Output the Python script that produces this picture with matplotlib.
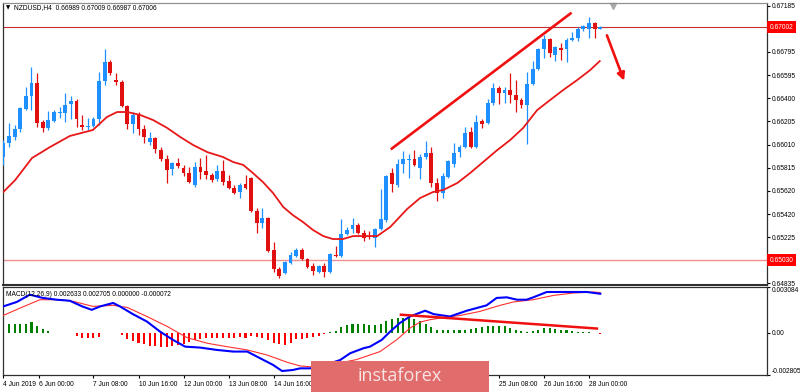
import numpy as np
import matplotlib
matplotlib.use('Agg')
import matplotlib.pyplot as plt
from matplotlib.patches import Rectangle, FancyArrowPatch
from matplotlib.transforms import blended_transform_factory

plt.rcParams['font.family'] = ['Liberation Sans', 'DejaVu Sans']

# NZDUSD H4 candles
opens = [0.65904, 0.66023, 0.66074, 0.66141, 0.66311, 0.66420, 0.66531, 0.66200, 0.66150, 0.66209,
         0.66277, 0.66277, 0.66353, 0.66378, 0.66175, 0.66158, 0.66167, 0.66226, 0.66547, 0.66708,
         0.66556, 0.66539, 0.66336, 0.66183, 0.66260, 0.66141, 0.66031, 0.66065, 0.65963, 0.65887,
         0.65802, 0.65853, 0.65811, 0.65769, 0.65667, 0.65819, 0.65786, 0.65752, 0.65718, 0.65786,
         0.65701, 0.65642, 0.65608, 0.65675, 0.65726, 0.65447, 0.65345, 0.65388, 0.65117, 0.64956,
         0.64922, 0.65007, 0.65066, 0.65117, 0.65041, 0.64981, 0.64930, 0.64981, 0.64930, 0.65074,
         0.65066, 0.65252, 0.65295, 0.65329, 0.65261, 0.65235, 0.65218, 0.65295, 0.65371, 0.65769,
         0.65667, 0.65845, 0.65879, 0.65887, 0.65811, 0.65904, 0.65938, 0.65684, 0.65599, 0.65735,
         0.65845, 0.65946, 0.65989, 0.66116, 0.65989, 0.66209, 0.66192, 0.66361, 0.66488, 0.66446,
         0.66471, 0.66429, 0.66387, 0.66344, 0.66522, 0.66649, 0.66818, 0.66903, 0.66767, 0.66827,
         0.66818, 0.66894, 0.66911, 0.66987, 0.66987, 0.67038, 0.66989]
highs = [0.66048, 0.66192, 0.66175, 0.66328, 0.66497, 0.66666, 0.66615, 0.66217, 0.66294, 0.66302,
         0.66328, 0.66446, 0.66420, 0.66395, 0.66260, 0.66234, 0.66243, 0.66623, 0.66818, 0.66725,
         0.66615, 0.66556, 0.66344, 0.66285, 0.66285, 0.66175, 0.66116, 0.66074, 0.65989, 0.65921,
         0.65862, 0.65896, 0.65837, 0.65819, 0.65862, 0.65896, 0.65921, 0.65769, 0.65837, 0.65879,
         0.65752, 0.65667, 0.65684, 0.65752, 0.65735, 0.65472, 0.65472, 0.65396, 0.65184, 0.64973,
         0.65024, 0.65100, 0.65134, 0.65134, 0.65049, 0.65007, 0.64990, 0.65007, 0.65091, 0.65150,
         0.65379, 0.65312, 0.65388, 0.65345, 0.65286, 0.65278, 0.65303, 0.65633, 0.65752, 0.65811,
         0.65887, 0.65955, 0.65929, 0.65963, 0.65929, 0.66040, 0.65989, 0.65726, 0.65769, 0.65879,
         0.66023, 0.66006, 0.66158, 0.66158, 0.66260, 0.66226, 0.66395, 0.66531, 0.66505, 0.66497,
         0.66615, 0.66556, 0.66404, 0.66623, 0.66716, 0.66827, 0.66937, 0.66911, 0.66844, 0.66869,
         0.66911, 0.66962, 0.67004, 0.67021, 0.67089, 0.67047, 0.67009]
lows = [0.65837, 0.65989, 0.66048, 0.66116, 0.66302, 0.66302, 0.66158, 0.66116, 0.66133, 0.66200,
        0.66234, 0.66200, 0.66226, 0.66158, 0.66133, 0.66133, 0.66158, 0.66175, 0.66514, 0.66598,
        0.66514, 0.66328, 0.66141, 0.66108, 0.66091, 0.66023, 0.66006, 0.65938, 0.65870, 0.65684,
        0.65752, 0.65811, 0.65743, 0.65684, 0.65650, 0.65718, 0.65718, 0.65692, 0.65701, 0.65667,
        0.65633, 0.65591, 0.65557, 0.65633, 0.65438, 0.65261, 0.65303, 0.65100, 0.64930, 0.64880,
        0.64914, 0.64998, 0.65058, 0.65032, 0.64965, 0.64905, 0.64922, 0.64889, 0.64922, 0.65058,
        0.65058, 0.65244, 0.65261, 0.65252, 0.65193, 0.65210, 0.65142, 0.65286, 0.65354, 0.65608,
        0.65650, 0.65769, 0.65726, 0.65828, 0.65718, 0.65887, 0.65650, 0.65532, 0.65557, 0.65726,
        0.65819, 0.65904, 0.65980, 0.65980, 0.65980, 0.66150, 0.66183, 0.66344, 0.66353, 0.66361,
        0.66361, 0.66285, 0.66319, 0.66014, 0.66514, 0.66640, 0.66742, 0.66751, 0.66716, 0.66725,
        0.66708, 0.66886, 0.66886, 0.66970, 0.66911, 0.66911, 0.66987]
closes = [0.66023, 0.66082, 0.66141, 0.66319, 0.66420, 0.66531, 0.66192, 0.66150, 0.66217, 0.66285,
          0.66285, 0.66344, 0.66378, 0.66226, 0.66158, 0.66167, 0.66226, 0.66547, 0.66708, 0.66615,
          0.66539, 0.66336, 0.66183, 0.66260, 0.66141, 0.66074, 0.66065, 0.65972, 0.65887, 0.65794,
          0.65853, 0.65828, 0.65769, 0.65692, 0.65819, 0.65777, 0.65752, 0.65709, 0.65786, 0.65692,
          0.65642, 0.65599, 0.65667, 0.65642, 0.65447, 0.65345, 0.65388, 0.65108, 0.64956, 0.64897,
          0.65015, 0.65074, 0.65117, 0.65041, 0.64973, 0.64939, 0.64981, 0.64930, 0.65083, 0.65066,
          0.65252, 0.65286, 0.65329, 0.65261, 0.65218, 0.65227, 0.65295, 0.65379, 0.65743, 0.65675,
          0.65845, 0.65887, 0.65887, 0.65837, 0.65904, 0.65938, 0.65684, 0.65599, 0.65743, 0.65870,
          0.65938, 0.65989, 0.66108, 0.65989, 0.66200, 0.66183, 0.66361, 0.66488, 0.66446, 0.66471,
          0.66429, 0.66387, 0.66344, 0.66522, 0.66649, 0.66818, 0.66903, 0.66784, 0.66835, 0.66810,
          0.66894, 0.66911, 0.66987, 0.67013, 0.67038, 0.66987, 0.67006]

# red moving average (sampled along the curve)
ma_x = [0, 2.1, 5.1, 8.3, 11.8, 15.9, 18.4, 20.2, 22.0, 24.3, 26.6, 29.1, 31.4, 33.7, 36.2, 39.0,
        40.8, 42.6, 44.3, 46.1, 47.9, 49.7, 51.4, 53.2, 55.0, 56.8, 58.5, 60.3, 62.1, 63.9, 66.4,
        67.4, 68.7, 71.7, 74.0, 76.3, 78.1, 80.6, 82.9, 85.2, 87.7, 90.0, 92.3, 94.8, 97.1, 99.4,
        101.9, 104.2, 105.9]
ma_y = [0.65608, 0.65709, 0.65896, 0.65989, 0.66082, 0.66133, 0.66243, 0.66285, 0.66285, 0.66260,
        0.66217, 0.66150, 0.66074, 0.66006, 0.65946, 0.65904, 0.65862, 0.65837, 0.65769, 0.65692,
        0.65599, 0.65481, 0.65413, 0.65354, 0.65286, 0.65235, 0.65210, 0.65210, 0.65235, 0.65235,
        0.65235, 0.65269, 0.65312, 0.65464, 0.65557, 0.65608, 0.65625, 0.65684, 0.65769, 0.65862,
        0.65963, 0.66048, 0.66150, 0.66302, 0.66387, 0.66471, 0.66556, 0.66640, 0.66716]

# MACD(12,26,9)
macd_x = [0, 2.4, 4.7, 7.0, 9.5, 11.8, 14.0, 15.7, 17.2, 19.5, 20.7, 23.0, 25.5, 27.8, 30.1, 32.3,
          34.9, 37.9, 40.8, 43.3, 45.6, 47.9, 49.5, 51.4, 52.7, 54.5, 56.2, 59.8, 61.6, 64.0, 65.1,
          67.2, 68.7, 70.4, 72.2, 74.9, 76.4, 79.3, 82.3, 85.8, 87.6, 89.4, 91.2, 92.9, 94.1, 96.5,
          100.0, 103.6, 106]
macd_y = [0.00178, 0.00208, 0.00257, 0.00235, 0.00223, 0.00216, 0.00178, 0.00155, 0.00178, 0.00201,
          0.00178, 0.00126, 0.00076, 0.00009, -0.00047, -0.00093, -0.00099, -0.00115, -0.00126,
          -0.00126, -0.00171, -0.00216, -0.00257, -0.00250, -0.00239, -0.00239, -0.00228, -0.00183,
          -0.00137, -0.00103, -0.00093, -0.00047, 0.00009, 0.00066, 0.00110, 0.00149, 0.00126,
          0.00110, 0.00149, 0.00185, 0.00235, 0.00239, 0.00223, 0.00223, 0.00239, 0.00275, 0.00275,
          0.00275, 0.00263]
signal_x = [0, 3.0, 6.5, 10.1, 12.4, 15.9, 19.5, 22.0, 25.5, 29.1, 32.6, 36.2, 39.7, 43.3, 46.8,
            50.4, 52.7, 54.5, 56.2, 59.5, 62.7, 66.9, 69.9, 72.2, 74.0, 75.7, 77.5, 81.1, 84.6,
            88.2, 90.6, 94.1, 97.7, 101.2, 104.8, 106]
signal_y = [0.00117, 0.00167, 0.00223, 0.00223, 0.00212, 0.00178, 0.00185, 0.00171, 0.00110,
            0.00043, -0.00032, -0.00070, -0.00093, -0.00115, -0.00149, -0.00198, -0.00223,
            -0.00228, -0.00235, -0.00205, -0.00180, -0.00126, -0.00045, 0.00032, 0.00072, 0.00088,
            0.00099, 0.00117, 0.00144, 0.00185, 0.00208, 0.00223, 0.00252, 0.00268, 0.00275, 0.00271]
hist = [0.00062, 0.00057, 0.00057, 0.00062, 0.00062, 0.00073, 0.00046, 0.00028, 0.00012, 0.00002,
        0.00002, -0.00002, -0.00002, -0.00022, -0.00032, -0.00037, -0.00037, -0.00028, 0.00002, 0.00002,
        0.00002, -0.00017, -0.00044, -0.00055, -0.00066, -0.00078, -0.00089, -0.00089, -0.00096, -0.00096,
        -0.00089, -0.00082, -0.00073, -0.00059, -0.00051, -0.00044, -0.00037, -0.00037, -0.00037, -0.00037,
        -0.00032, -0.00037, -0.00028, -0.00032, -0.00022, -0.00028, -0.00037, -0.00051, -0.00066, -0.00078,
        -0.00082, -0.00066, -0.00044, -0.00041, -0.00034, -0.00027, -0.00020, -0.00010, 0.00003, 0.00014,
        0.00039, 0.00052, 0.00061, 0.00061, 0.00057, 0.00052, 0.00052, 0.00057, 0.00079, 0.00090,
        0.00101, 0.00101, 0.00101, 0.00095, 0.00079, 0.00061, 0.00039, 0.00022, 0.00016, 0.00016,
        0.00016, 0.00022, 0.00022, 0.00027, 0.00034, 0.00039, 0.00045, 0.00045, 0.00045, 0.00045,
        0.00034, 0.00022, 0.00011, 0.00003, 0.00011, 0.00022, 0.00034, 0.00034, 0.00027, 0.00022,
        0.00016, 0.00011, 0.00005, 0.00003, 0.00003, -0.00003, -0.000072]

price_ticks = [0.67185, 0.66795, 0.66595, 0.66400, 0.66205, 0.66010, 0.65815, 0.65620, 0.65420,
               0.65225, 0.64835]
# labels under the watermark (18-24 Jun) are not visible in the chart
date_pos = [0, 6.3, 16, 24, 32, 40, 48, 88, 96, 104]
date_labels = ['4 Jun 2019', '6 Jun 00:00', '7 Jun 08:00', '10 Jun 16:00', '12 Jun 00:00',
               '13 Jun 08:00', '14 Jun 16:00', '25 Jun 08:00', '26 Jun 16:00', '28 Jun 00:00']
bid_price = 0.67002
support = 0.65030

# hand drawn analysis lines (bar index, price)
channel_line = [(68.8, 0.65969), (100.9, 0.67126)]
down_arrow = [(107.0, 0.66956), (110.4, 0.66528)]
macd_line = [(70.6, 0.00122), (105.4, 0.00029)]

BLUE = '#1E90FF'
RED = '#E01010'
XMAX = 135.55
FS = 4.8

fig = plt.figure(figsize=(8, 3.92), dpi=100)
ax = fig.add_axes([0.0034, 0.2742, 0.955, 0.7173])
ax2 = fig.add_axes([0.0034, 0.0446, 0.955, 0.2232])

o, h, l, c = map(np.array, (opens, highs, lows, closes))
idx = np.arange(len(c))
cols = np.where(c >= o, BLUE, RED)
ax.vlines(idx, l, h, colors=cols, lw=0.9, zorder=3)
body = np.maximum(np.abs(c - o), 0.00003)
ax.bar(idx, body, bottom=np.minimum(o, c), width=0.68, color=cols, linewidth=0, zorder=4)

ax.plot(ma_x, ma_y, color='#E81818', lw=1.3, zorder=5)
ax.axhline(bid_price, color='#C83030', lw=0.8, zorder=2)
ax.axhline(support, color='#F29090', lw=1.0, zorder=2)

(x0, y0), (x1, y1) = channel_line
ax.plot([x0, x1], [y0, y1], color='#F01010', lw=1.9, solid_capstyle='butt', zorder=6)
arr = FancyArrowPatch(down_arrow[0], down_arrow[1], arrowstyle='-|>', mutation_scale=11,
                      color='#F01010', lw=1.9, zorder=6)
ax.add_patch(arr)

ax.set_xlim(-0.11, XMAX)
ax.set_ylim(0.64825, 0.67205)
ax.yaxis.tick_right()
ax.set_yticks(price_ticks)
ax.set_yticklabels([f'{p:.5f}' for p in price_ticks])
ax.tick_params(axis='y', labelsize=FS, length=2.2, width=0.8, pad=1.6, colors='#000000')
ax.set_xticks([])

yb = blended_transform_factory(ax.transAxes, ax.transData)
for val in (bid_price, support):
    ax.text(1.004, val, f'{val:.5f}', transform=yb, fontsize=FS, color='white', va='center',
            ha='left', zorder=10, clip_on=False,
            bbox=dict(boxstyle='square,pad=0.35', fc='#FF0000', ec='none'))

tb = blended_transform_factory(ax.transData, ax.transAxes)
ax.plot([108.3], [0.99], marker='v', color='#A8A8A8', ms=4.5, transform=tb, clip_on=False)

# MACD panel
hcols = np.where(np.array(hist) >= 0, '#008000', '#FF0000')
ax2.bar(idx, hist, width=0.36, color=hcols, linewidth=0, zorder=2)
ax2.plot(signal_x, signal_y, color='#FF3030', lw=0.8, zorder=3)
ax2.plot(macd_x, macd_y, color='#0000FF', lw=1.5, zorder=4)
(m0, v0), (m1, v1) = macd_line
ax2.plot([m0, m1], [v0, v1], color='#F01010', lw=1.8, zorder=6)

ax2.set_xlim(-0.11, XMAX)
ax2.set_ylim(-0.002805, 0.003084)
ax2.yaxis.tick_right()
ax2.set_yticks([0.003084, 0.0, -0.002805])
ax2.set_yticklabels(['0.003084', '0.00', '-0.002805'])
ax2.tick_params(axis='y', labelsize=FS, length=2.2, width=0.8, pad=1.6)
ylabs = ax2.get_yticklabels()
ylabs[0].set_va('top')
ylabs[2].set_va('bottom')
ax2.set_xticks(date_pos)
ax2.set_xticklabels(date_labels, ha='left')
ax2.tick_params(axis='x', labelsize=FS, length=2.2, width=0.8, pad=2.2)

for a in (ax, ax2):
    for s in a.spines.values():
        s.set_color('#303030')
        s.set_linewidth(0.9)
ax.spines['bottom'].set_linewidth(1.5)
ax.spines['top'].set_color('#909090')

fig.text(6 / 800, 1 - 8 / 392, '\u25bc', fontsize=4, va='center', ha='left',
         family=['DejaVu Sans'])
fig.text(14 / 800, 1 - 8 / 392, 'NZDUSD,H4  0.66989 0.67009 0.66987 0.67006', fontsize=FS,
         va='center', ha='left')
fig.text(6 / 800, 1 - 294 / 392, 'MACD(12,26,9) 0.002633 0.002705 0.000000 -0.000072',
         fontsize=FS, va='center', ha='left', zorder=10)

# watermark
fig.patches.append(Rectangle((311 / 800, 0), 178 / 800, 31 / 392, transform=fig.transFigure,
                             fc='#E06C6C', ec='none', zorder=20))
fig.text(400 / 800, 1 - 376 / 392, 'instaforex', fontsize=13, color='#F9E4E4', ha='center',
         va='center', family=['Open Sans', 'DejaVu Sans'], zorder=21)

fig.savefig('out.png', dpi=100, facecolor='white')
